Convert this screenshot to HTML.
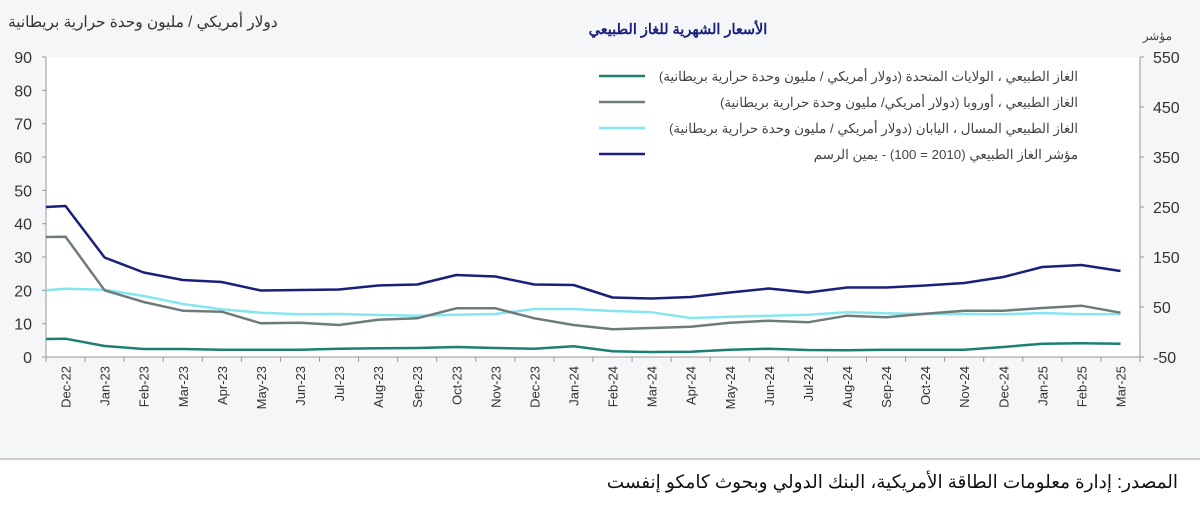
<!DOCTYPE html>
<html><head><meta charset="utf-8"><style>
body{margin:0;background:#fff;font-family:"Liberation Sans","Noto Sans CJK SC",sans-serif;}
svg{display:block}
</style></head><body>
<svg width="1200" height="509" id="chart" xmlns="http://www.w3.org/2000/svg">
<rect x="0" y="0" width="1200" height="459" fill="#f4f6f8"/>
<rect x="46" y="57" width="1094" height="300" fill="#ffffff"/>
<line x1="0" y1="459" x2="1200" y2="459" stroke="#c8cccc" stroke-width="2"/>
<text x="678" y="34" text-anchor="middle" font-size="14.5" font-weight="bold" fill="#1a1f7a">الأسعار الشهرية للغاز الطبيعي</text>
<text x="8" y="27" font-size="15.3" fill="#333">دولار أمريكي / مليون وحدة حرارية بريطانية</text>
<text x="1172" y="40" text-anchor="end" font-size="12" fill="#444">مؤشر</text>
<text x="1178" y="488" text-anchor="end" font-size="18.4" fill="#111">المصدر: إدارة معلومات الطاقة الأمريكية، البنك الدولي وبحوث كامكو إنفست</text>
<g id="axes"></g><g id="series"></g>
<g id="legend"></g>
</svg>
<script>
const categories=["Dec-22","Jan-23","Feb-23","Mar-23","Apr-23","May-23","Jun-23","Jul-23","Aug-23","Sep-23","Oct-23","Nov-23","Dec-23","Jan-24","Feb-24","Mar-24","Apr-24","May-24","Jun-24","Jul-24","Aug-24","Sep-24","Oct-24","Nov-24","Dec-24","Jan-25","Feb-25","Mar-25"];
// first value = lead-in at left plot edge, then one per category
const usGas=[5.4,5.5,3.3,2.4,2.4,2.2,2.2,2.2,2.5,2.6,2.7,3.0,2.7,2.5,3.2,1.7,1.5,1.6,2.2,2.5,2.1,2.0,2.2,2.2,2.2,3.0,4.0,4.1,4.0];
const europeGas=[36,36.1,20,16.5,13.9,13.6,10.1,10.3,9.6,11.2,11.6,14.6,14.6,11.6,9.6,8.3,8.7,9.1,10.3,10.9,10.4,12.4,11.9,13.0,13.9,13.9,14.7,15.4,13.3];
const japanLng=[20,20.5,20.2,18.3,15.9,14.3,13.3,12.8,12.9,12.6,12.4,12.7,12.9,14.4,14.4,13.8,13.4,11.7,12.1,12.4,12.7,13.4,13.1,12.9,12.9,12.8,13.2,12.8,12.9];
const gasIndex=[250,252,149,119,104,100,83,84,85,93,95,114,111,95,94,69,67,70,79,87,79,89,89,93,98,110,130,134,122];
const leftTicks=[0,10,20,30,40,50,60,70,80,90];
const rightTicks=[-50,50,150,250,350,450,550];
const legendLabels=["الغاز الطبيعي ، الولايات المتحدة (دولار أمريكي  / مليون وحدة حرارية بريطانية)","الغاز الطبيعي ، أوروبا (دولار أمريكي/ مليون وحدة حرارية بريطانية)","الغاز الطبيعي المسال ، اليابان (دولار أمريكي / مليون وحدة حرارية بريطانية)","مؤشر الغاز الطبيعي (2010 = 100) - يمين الرسم"];

const NS="http://www.w3.org/2000/svg";
const X0=46,X1=1140,Y0=357,Y1=57,step=(X1-X0)/categories.length;
const xc=i=>X0+(i+0.5)*step;
const yL=v=>Y0-(v-0)/(90-0)*(Y0-Y1);
const yR=v=>Y0-(v+50)/(550+50)*(Y0-Y1);
function mk(t,a,p){const e=document.createElementNS(NS,t);for(const k in a)e.setAttribute(k,a[k]);p.appendChild(e);return e;}
const ax=document.getElementById('axes');
const l1=mk('line',{x1:X0,y1:Y1,x2:X0,y2:Y0,stroke:'#999'},ax);


const l2=mk('line',{x1:X1,y1:Y1,x2:X1,y2:Y0,stroke:'#999'},ax);


const l3=mk('line',{x1:X0,y1:Y0,x2:X1,y2:Y0,stroke:'#999'},ax);


leftTicks.forEach(v=>{
  mk('line',{x1:X0-4,y1:yL(v),x2:X0,y2:yL(v),stroke:'#999'},ax);
  const t=mk('text',{x:32,y:yL(v)+6,'text-anchor':'end','font-size':16,fill:'#333'},ax);
  t.textContent=v;
  
  
});
rightTicks.forEach(v=>{
  mk('line',{x1:X1,y1:yR(v),x2:X1+4,y2:yR(v),stroke:'#999'},ax);
  const t=mk('text',{x:1153,y:yR(v)+6,'font-size':16,fill:'#333'},ax);
  t.textContent=v;
  
  
});
for(let i=0;i<=categories.length;i++){mk('line',{x1:X0+i*step,y1:Y0,x2:X0+i*step,y2:Y0+5,stroke:'#999'},ax);}
categories.forEach((c,i)=>{
  const x=xc(i)+5,y=366;
  const t=mk('text',{x:x,y:y,'text-anchor':'end','font-size':13,fill:'#333',transform:`rotate(-90 ${x} ${y})`},ax);
  t.textContent=c;
  
  
});
const sg=document.getElementById('series');
function line(vals,yf,color,name){
  const pts=vals.map((v,k)=>{const x=k===0?X0:xc(k-1);return x.toFixed(1)+','+yf(v).toFixed(1);}).join(' ');
  const p=mk('polyline',{points:pts,fill:'none',stroke:color,'stroke-width':2.5,'stroke-linejoin':'round'},sg);
  
  
}
const colors=['#1b8070','#6e7b7b','#86e6ef','#1a1f7a'];
line(japanLng,yL,colors[2],'japan-lng-line');
line(europeGas,yL,colors[1],'europe-gas-line');
line(usGas,yL,colors[0],'us-gas-line');
line(gasIndex,yR,colors[3],'gas-index-line');
const lg=document.getElementById('legend');
legendLabels.forEach((s,i)=>{
  const y=76+i*26;
  const ln=mk('line',{x1:599,y1:y,x2:645,y2:y,stroke:colors[i],'stroke-width':2.5},lg);
  
  
  const t=mk('text',{x:1078,y:y+5,'text-anchor':'start','font-size':13.3,fill:'#444',direction:'rtl'},lg);
  t.textContent=s;
  
  
});
</script>
</body></html>
